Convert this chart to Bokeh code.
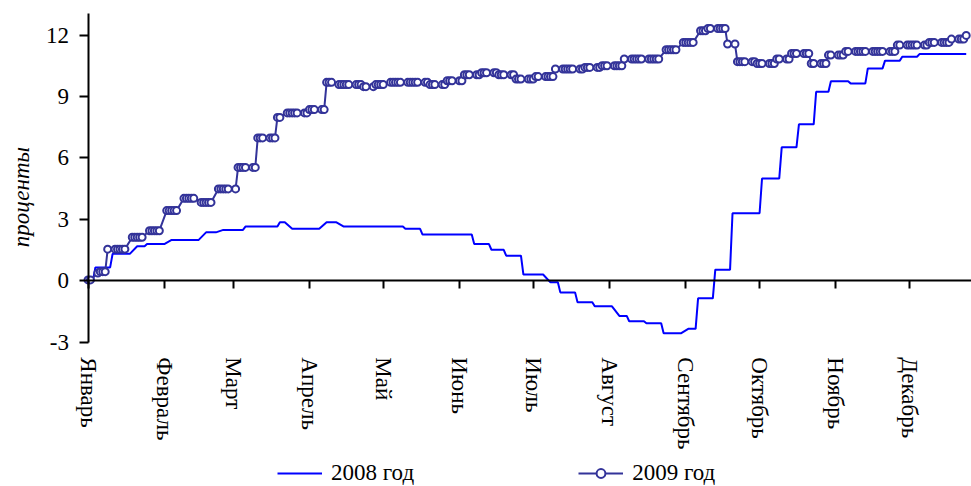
import numpy as np
import pandas as pd
from bokeh.plotting import figure
from bokeh.models import LinearAxis, FixedTicker, Range1d, Legend, LegendItem, Label
from bokeh.embed import file_html
from bokeh.resources import INLINE

# ---------------- data ----------------
months = ["Январь", "Февраль", "Март", "Апрель", "Май", "Июнь",
          "Июль", "Август", "Сентябрь", "Октябрь", "Ноябрь", "Декабрь"]
month_start_day = [0, 31, 59, 90, 120, 151, 181, 212, 243, 273, 304, 334]
y_ticks = [-3, 0, 3, 6, 9, 12]

# 2008: day of year (from 1 Jan) at which a new level starts, and that level (%)
change_day_2008 = [0, 3, 10, 18, 24, 32, 47, 55, 64, 78,
                   83, 97, 103, 129, 136, 157, 164, 170, 177, 186,
                   192, 199, 206, 214, 220, 227, 234, 242, 248, 255,
                   262, 274, 282, 289, 296, 302, 310, 317, 324, 331,
                   338]
level_2008 = [0.00, 0.66, 1.32, 1.69, 1.80, 2.00, 2.37, 2.49, 2.65, 2.86,
              2.54, 2.86, 2.65, 2.54, 2.26, 1.80, 1.52, 1.23, 0.31, -0.07,
              -0.56, -1.04, -1.24, -1.71, -1.97, -2.07, -2.56, -2.34, -0.85, 0.55,
              3.30, 5.00, 6.52, 7.64, 9.23, 9.74, 9.64, 10.37, 10.75, 10.94,
              11.07]
last_day_2008 = 357

# 2009
change_day_2009 = [0, 2, 5, 8, 16, 23, 30, 38, 45, 52,
                   61, 69, 77, 81, 90, 97, 102, 112, 117, 121,
                   139, 146, 153, 160, 167, 174, 182, 190, 202, 209,
                   218, 233, 240, 247, 252, 260, 264, 272, 280, 286,
                   294, 301, 308, 329, 342, 351, 357]
level_2009 = [0.05, 0.38, 0.45, 1.55, 2.13, 2.45, 3.43, 4.03, 3.83, 4.49,
              5.54, 6.98, 7.98, 8.20, 8.36, 9.69, 9.58, 9.48, 9.58, 9.69,
              9.58, 9.77, 10.06, 10.16, 10.06, 9.85, 9.97, 10.34, 10.42, 10.50,
              10.83, 11.28, 11.64, 12.21, 12.32, 11.56, 10.70, 10.61, 10.83, 11.10,
              10.61, 11.02, 11.20, 11.51, 11.64, 11.80, 11.98]
last_day_2009 = 357


def business_day_series(year, change_day, level, last_day):
    start = pd.Timestamp(f"{year}-01-01")
    dates = pd.bdate_range(start, start + pd.Timedelta(days=last_day))
    x = np.asarray((dates - start).days, dtype=float)
    idx = np.searchsorted(np.asarray(change_day), x, side="right") - 1
    return x, np.asarray(level)[idx]


x08, y08 = business_day_series(2008, change_day_2008, level_2008, last_day_2008)
x09, y09 = business_day_series(2009, change_day_2009, level_2009, last_day_2009)

FONT = "Liberation Serif"
FS = "23px"

# the plotting frame covers the whole canvas; axes are placed at fixed values
p = figure(width=971, height=486, output_backend="svg", toolbar_location=None,
           x_range=Range1d(-35.57, 359.15), y_range=Range1d(-10.034, 13.685),
           x_axis_type=None, y_axis_type=None,
           min_border_left=0, min_border_right=0, min_border_top=0,
           min_border_bottom=0)
p.outline_line_color = None
p.background_fill_color = "white"
p.border_fill_color = "white"

# y axis at day 0, line from -3 to the top of the plot area
yaxis = LinearAxis(ticker=FixedTicker(ticks=y_ticks), fixed_location=0,
                   bounds=(-3, 13.04),
                   major_label_overrides={t: str(t) for t in y_ticks},
                   major_label_text_font=FONT, major_label_text_font_size=FS,
                   major_label_text_color="black", major_label_standoff=10,
                   major_tick_out=9, major_tick_in=0,
                   minor_tick_out=0, minor_tick_in=0,
                   axis_line_width=2, axis_line_color="black",
                   major_tick_line_width=2, major_tick_line_color="black")
p.add_layout(yaxis, "left")

# x axis line at zero with tick marks
zaxis = LinearAxis(ticker=FixedTicker(ticks=month_start_day), fixed_location=0,
                   bounds=(0, 359.15),
                   major_label_overrides={d: "" for d in month_start_day},
                   major_label_text_font_size="0px",
                   major_tick_out=8, major_tick_in=0,
                   minor_tick_out=0, minor_tick_in=0,
                   axis_line_width=2, axis_line_color="black",
                   major_tick_line_width=2, major_tick_line_color="black")
p.add_layout(zaxis, "below")

# month labels below the lowest value (-3)
laxis = LinearAxis(ticker=FixedTicker(ticks=month_start_day), fixed_location=-3,
                   major_label_overrides={d: m for d, m in zip(month_start_day, months)},
                   major_label_orientation="vertical",
                   major_label_text_font=FONT, major_label_text_font_size=FS,
                   major_label_text_color="black", major_label_standoff=15,
                   axis_line_color=None, major_tick_line_color=None,
                   minor_tick_line_color=None,
                   major_tick_out=0, major_tick_in=0,
                   minor_tick_out=0, minor_tick_in=0)
p.add_layout(laxis, "below")

# y axis title
p.add_layout(Label(x=-27.2, y=4.09, text="проценты", angle=np.pi / 2,
                   text_align="center", text_baseline="alphabetic",
                   text_font=FONT, text_font_style="italic",
                   text_font_size=FS, text_color="black"))

# series
r08 = p.line(x08, y08, line_color="#0000FF", line_width=2)
r09l = p.line(x09, y09, line_color="#333399", line_width=2)
r09m = p.scatter(x09, y09, marker="circle", size=7, line_color="#333399",
                 line_width=2, fill_color="white")

legend = Legend(items=[LegendItem(label="2008 год", renderers=[r08]),
                       LegendItem(label="2009 год", renderers=[r09l, r09m])],
                orientation="horizontal", location=(277, 0),
                padding=0, margin=0, spacing=164,
                glyph_width=45, glyph_height=22, label_height=22,
                label_standoff=9, label_text_font=FONT, label_text_font_size=FS,
                label_text_color="black",
                border_line_color=None, background_fill_alpha=0)
p.add_layout(legend)

open("out.html", "w").write(file_html(p, INLINE))
